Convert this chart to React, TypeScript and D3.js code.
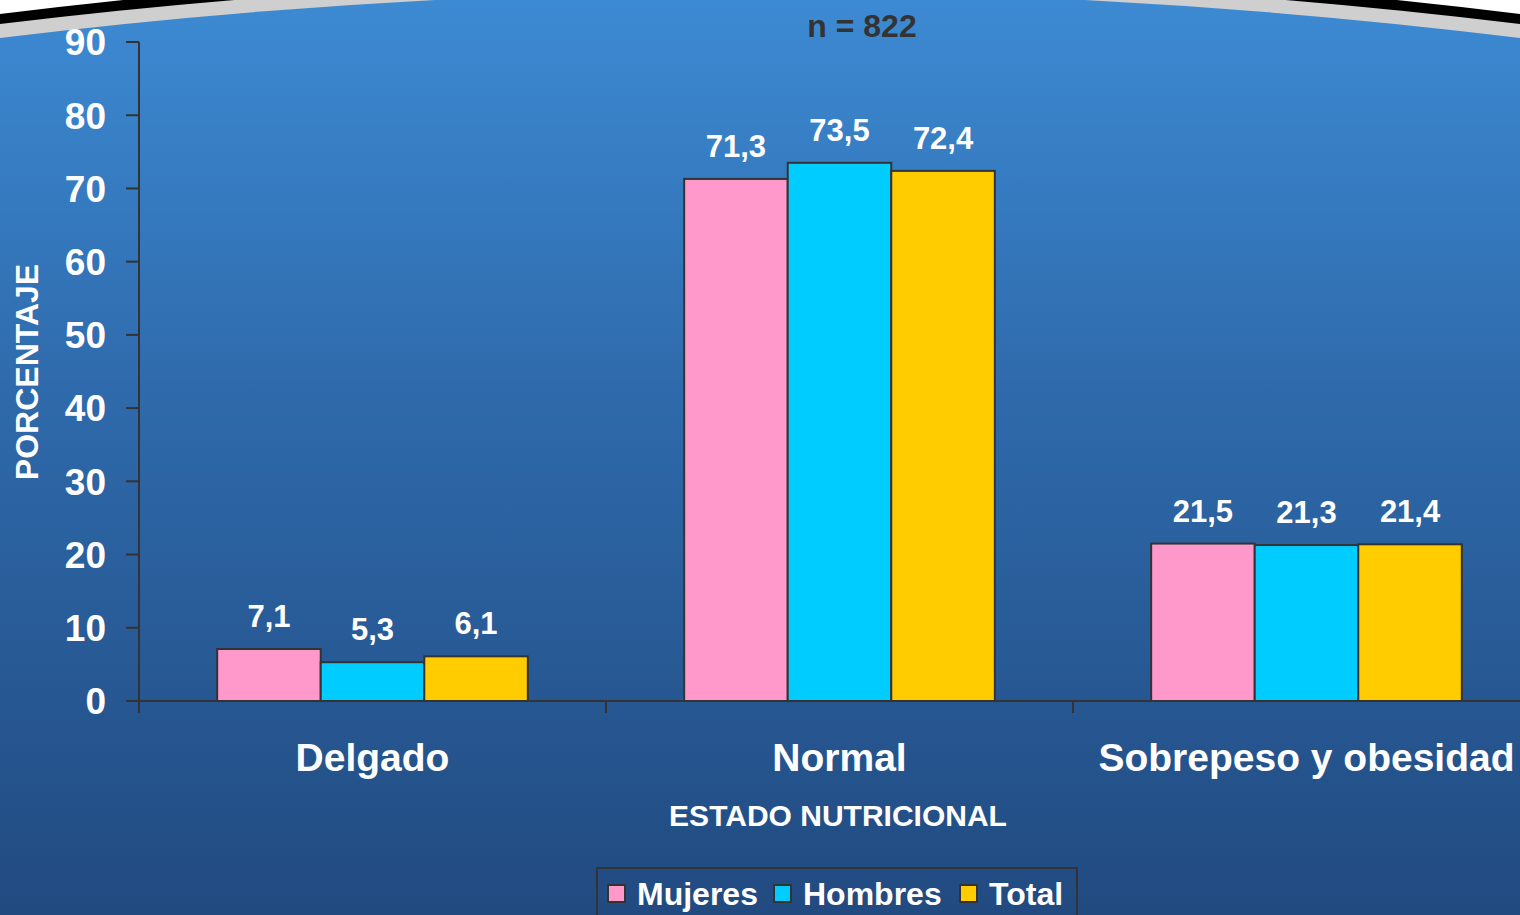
import React from 'react';
import * as d3 from 'd3';

const categories = ['Delgado', 'Normal', 'Sobrepeso y obesidad'];
const seriesNames = ['Mujeres', 'Hombres', 'Total'];
const mujeres = [7.1, 71.3, 21.5];
const hombres = [5.3, 73.5, 21.3];
const total = [6.1, 72.4, 21.4];
const yTicks = [0, 10, 20, 30, 40, 50, 60, 70, 80, 90];
const colors = ['#FF99CC', '#00CCFF', '#FFCC00'];

const W = 1520;
const H = 915;
const FONT = '"Liberation Sans", Arial, sans-serif';

export default function App() {
  const series = [mujeres, hombres, total];

  const x = d3.scaleBand<string>().domain(categories).range([139, 1540]);
  const inner = d3.scaleBand<string>()
    .domain(seriesNames)
    .range([0, x.bandwidth()])
    .paddingInner(0)
    .paddingOuter(0.755);
  const y = d3.scaleLinear().domain([0, 90]).range([701, 42]);

  const fmt = (v: number) => v.toFixed(1).replace('.', ',');
  const bandEdges = categories.map(c => x(c) || 0).concat([(x(categories[2]) || 0) + x.bandwidth()]);

  return (
    <svg width={W} height={H} style={{ position: 'absolute', left: 0, top: 0 }} fontFamily={FONT}>
      <defs>
        <linearGradient id="bg" x1="0" y1="0" x2="0" y2="1">
          <stop offset="0%" stopColor="#3D8BD4" />
          <stop offset="45%" stopColor="#2E69AA" />
          <stop offset="100%" stopColor="#214A80" />
        </linearGradient>
      </defs>
      <rect width={W} height={H} fill="#ffffff" />
      {/* decorative curved top edge */}
      <path d="M0,14 Q760,-80 1520,14 L1520,915 L0,915 Z" fill="#000000" />
      <path d="M0,24 Q760,-68 1520,24 L1520,915 L0,915 Z" fill="#cfcfcf" />
      <path d="M0,38 Q760,-55 1520,38 L1520,915 L0,915 Z" fill="url(#bg)" />

      <text x={862} y={37} textAnchor="middle" fontSize={32} fontWeight="bold" fill="#333333">n = 822</text>

      {/* y axis */}
      <line x1={139} x2={139} y1={y(90)} y2={713} stroke="#333333" strokeWidth={2} />
      {yTicks.map(t => (
        <g key={t}>
          <line x1={126} x2={139} y1={y(t)} y2={y(t)} stroke="#333333" strokeWidth={2} />
          <text x={106} y={y(t)} dy="0.36em" textAnchor="end" fontSize={37} fontWeight="bold" fill="#ffffff">{t}</text>
        </g>
      ))}

      {/* bars */}
      {categories.map((c, ci) => (
        <g key={c} transform={`translate(${x(c)},0)`}>
          {seriesNames.map((s, si) => {
            const v = series[si][ci];
            const bx = inner(s) || 0;
            return (
              <g key={s}>
                <rect x={bx} y={y(v)} width={inner.bandwidth()} height={y(0) - y(v)}
                  fill={colors[si]} stroke="#333333" strokeWidth={2} />
                <text x={bx + inner.bandwidth() / 2} y={y(v) - 22} textAnchor="middle"
                  fontSize={31} fontWeight="bold" fill="#ffffff">{fmt(v)}</text>
              </g>
            );
          })}
        </g>
      ))}

      {/* x axis */}
      <line x1={139} x2={W} y1={y(0)} y2={y(0)} stroke="#333333" strokeWidth={2} />
      {bandEdges.map((e, i) => (
        <line key={i} x1={e} x2={e} y1={y(0)} y2={713} stroke="#333333" strokeWidth={2} />
      ))}
      {categories.map(c => (
        <text key={c} x={(x(c) || 0) + x.bandwidth() / 2} y={771} textAnchor="middle"
          fontSize={39} fontWeight="bold" fill="#ffffff">{c}</text>
      ))}
      <text x={838} y={826} textAnchor="middle" fontSize={30} fontWeight="bold" fill="#ffffff">ESTADO NUTRICIONAL</text>
      <text transform="translate(38,372) rotate(-90)" textAnchor="middle" fontSize={32} fontWeight="bold" fill="#ffffff">PORCENTAJE</text>

      {/* legend */}
      <rect x={597} y={868} width={480} height={60} fill="none" stroke="#333333" strokeWidth={2} />
      {seriesNames.map((s, i) => {
        const lx = [608, 774, 960][i];
        return (
          <g key={s}>
            <rect x={lx} y={885} width={17} height={17} fill={colors[i]} stroke="#333333" strokeWidth={2} />
            <text x={lx + 29} y={905} fontSize={32} fontWeight="bold" fill="#ffffff">{s}</text>
          </g>
        );
      })}
    </svg>
  );
}
